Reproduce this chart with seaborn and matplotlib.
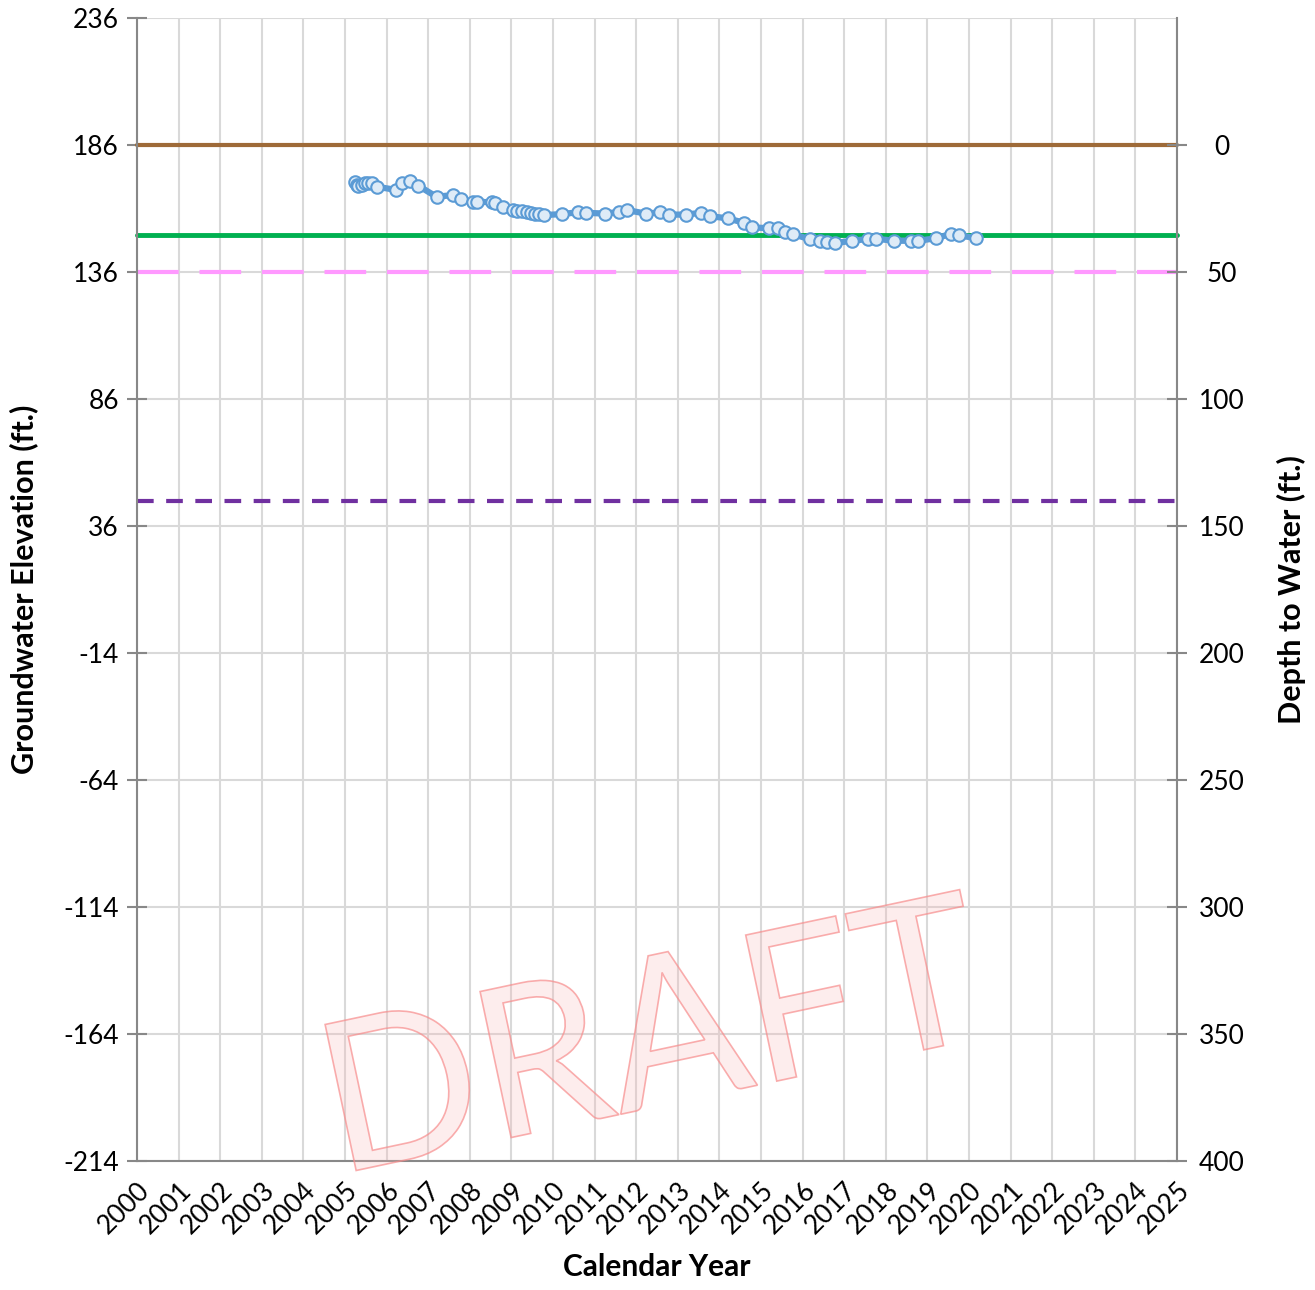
import matplotlib
matplotlib.use("Agg")
import matplotlib.pyplot as plt
import matplotlib.patheffects as pe
import seaborn as sns
import pandas as pd

# measured groundwater elevations (decimal year, ft)
years = [2005.24, 2005.28, 2005.32, 2005.40, 2005.48, 2005.56, 2005.64, 2005.76,
         2006.23, 2006.36, 2006.56, 2006.76, 2007.20, 2007.59, 2007.78, 2008.07,
         2008.17, 2008.53, 2008.61, 2008.79, 2009.03, 2009.13, 2009.25, 2009.37,
         2009.46, 2009.57, 2009.67, 2009.78, 2010.21, 2010.59, 2010.79, 2011.26,
         2011.59, 2011.77, 2012.23, 2012.57, 2012.78, 2013.19, 2013.56, 2013.78,
         2014.20, 2014.59, 2014.78, 2015.20, 2015.42, 2015.58, 2015.78, 2016.18,
         2016.42, 2016.59, 2016.78, 2017.19, 2017.58, 2017.76, 2018.20, 2018.60,
         2018.78, 2019.21, 2019.56, 2019.77, 2020.18]
elev = [171.6, 170.3, 169.9, 170.3, 170.9, 171.1, 170.9, 169.6,
        168.3, 170.9, 171.8, 170.0, 165.6, 166.3, 164.7, 163.4,
        163.7, 163.4, 163.0, 161.7, 160.4, 160.2, 160.0, 159.5,
        159.1, 158.8, 158.7, 158.4, 158.8, 159.5, 159.3, 159.0,
        159.7, 160.4, 159.0, 159.5, 158.6, 158.6, 159.3, 158.0,
        157.1, 155.4, 153.6, 153.2, 153.2, 151.9, 150.8, 148.9,
        148.1, 147.8, 147.4, 148.3, 149.0, 149.1, 148.3, 148.3,
        148.3, 149.3, 151.0, 150.4, 149.3]

ground_surface = 186
level_green = 150.6
level_pink = 136
level_purple = 45.8

year_ticks = list(range(2000, 2026))
elev_ticks = [236, 186, 136, 86, 36, -14, -64, -114, -164, -214]
depth_ticks = [0, 50, 100, 150, 200, 250, 300, 350, 400]

df = pd.DataFrame({"year": years, "elev": elev})

sns.set_style("white")
plt.rcParams["font.family"] = ["Lato", "DejaVu Sans"]
plt.rcParams["axes.unicode_minus"] = False
plt.rcParams["text.color"] = "black"
plt.rcParams["axes.labelcolor"] = "black"

fig = plt.figure(figsize=(13.15, 12.9), dpi=100)
ax = fig.add_axes([137 / 1315, 1 - 1161 / 1290, 1040 / 1315, 1143 / 1290])

grid_c = "#d9d9d9"
for x in year_ticks:
    ax.axvline(x, color=grid_c, lw=1.5, zorder=0)
for y in elev_ticks:
    ax.axhline(y, color=grid_c, lw=1.5, zorder=0)

ax.axhline(ground_surface, color="#9e6a38", lw=3, zorder=2, clip_on=False)
ax.axhline(level_green, color="#00b050", lw=3.5, zorder=2, clip_on=False)
ax.axhline(level_pink, color="#ff99ff", lw=3, ls=(0, (10, 5)), zorder=2)
ax.axhline(level_purple, color="#7030a0", lw=3, ls=(0, (4, 3)), zorder=2)

sns.lineplot(data=df, x="year", y="elev", ax=ax, color="#5b9bd5", lw=4.5,
             marker="o", markersize=9, markerfacecolor="#deebf7",
             markeredgecolor="#5b9bd5", markeredgewidth=1.5, zorder=3)

ax.set_xlim(2000, 2025)
ax.set_ylim(-214, 236)
ax.set_xticks(year_ticks)
ax.set_xticklabels([str(y) for y in year_ticks], rotation=45, ha="right",
                   rotation_mode="anchor")
ax.set_yticks(elev_ticks)
ax.tick_params(axis="both", labelsize=19, colors="#888888", labelcolor="black",
               length=8, width=1.5, direction="out")
ax.tick_params(axis="y", direction="inout", length=14, pad=6)
ax.tick_params(axis="x", pad=4)
for s in ["left", "right", "bottom"]:
    ax.spines[s].set_color("#888888")
    ax.spines[s].set_linewidth(1.5)
ax.spines["top"].set_visible(False)
ax.set_xlabel("Calendar Year", fontsize=21.5, fontweight="bold", labelpad=10)
ax.set_ylabel("Groundwater Elevation (ft.)", fontsize=22, fontweight="bold")
ax.yaxis.set_label_coords(-0.095, 0.5)

ax2 = ax.twinx()
ax2.set_ylim(ground_surface + 214, ground_surface - 236)
ax2.set_yticks(depth_ticks)
ax2.tick_params(axis="y", labelsize=19, colors="#888888", labelcolor="black",
                direction="inout", length=14, width=1.5, pad=25)
for lbl in ax2.get_yticklabels():
    lbl.set_horizontalalignment("center")
for s in ax2.spines.values():
    s.set_visible(False)
ax2.set_ylabel("Depth to Water (ft.)", fontsize=22, fontweight="bold")
ax2.yaxis.set_label_coords(1.096, 0.5)

fig.text(0.497, 0.188, "DRAFT", rotation=12, fontsize=150, ha="center", va="center",
         rotation_mode="anchor", color="none", zorder=10,
         path_effects=[pe.PathPatchEffect(facecolor=(0.98, 0.72, 0.72, 0.25),
                                          edgecolor=(0.97, 0.55, 0.55, 0.7),
                                          linewidth=1.2)])

fig.savefig("out.png", dpi=100)
plt.close(fig)
